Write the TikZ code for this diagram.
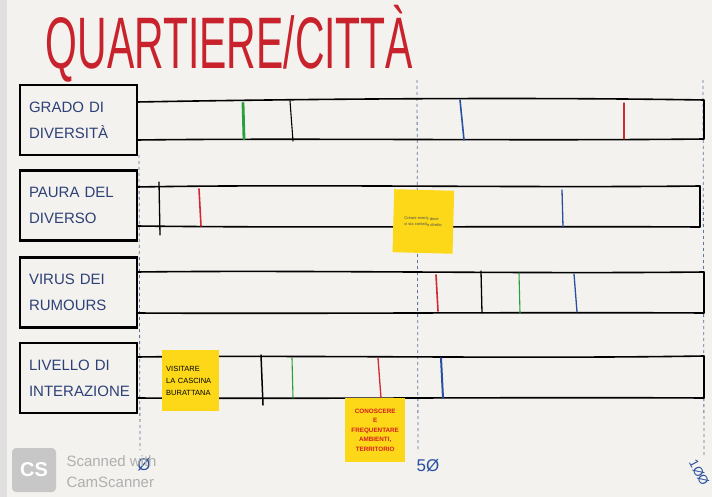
\documentclass[tikz,border=0pt]{standalone}
\usepackage{fontspec}
\setmainfont{Liberation Sans}
\definecolor{paper}{RGB}{244,242,238}
\definecolor{titlered}{RGB}{200,35,45}
\definecolor{ink}{RGB}{45,65,120}
\definecolor{mgreen}{RGB}{40,160,60}
\definecolor{mblue}{RGB}{40,80,160}
\definecolor{mred}{RGB}{210,40,50}
\definecolor{dashc}{RGB}{95,115,155}
\definecolor{noteyellow}{RGB}{252,216,25}
\definecolor{notered}{RGB}{215,30,30}
\definecolor{wmgrey}{RGB}{175,175,175}
\tikzset{
  labelbox/.style={draw=black, line width=2.2pt, minimum width=117pt, minimum height=70pt,
    inner xsep=9pt, text width=99pt, align=left, text=ink,
    font=\fontsize{15}{26}\selectfont},
  barline/.style={draw=black, line width=1.6pt, line cap=round, line join=round},
  tick/.style={line width=1.3pt, line cap=round},
  scaleline/.style={draw=dashc, line width=0.8pt, dash pattern=on 3pt off 3pt},
  sticky/.style={fill=noteyellow, inner sep=4pt, align=left, anchor=north west},
  scalenum/.style={text=mblue, font=\fontsize{17}{17}\selectfont},
  wmtext/.style={text=wmgrey, anchor=west, font=\fontsize{15}{15}\selectfont}
}
\begin{document}
\begin{tikzpicture}[x=1pt,y=-1pt]
\useasboundingbox (0,0) rectangle (712,497);
\fill[paper] (0,0) rectangle (712,497);
\fill[black!12] (0,0) rectangle (7,497);

% scale lines
\draw[scaleline] (139,155) -- (140,450);
\draw[scaleline] (417,80) -- (418,452);
\draw[scaleline] (703,80) -- (704,455);

% title
\node[anchor=west, text=titlered, xscale=0.56, font=\fontsize{73}{73}\selectfont] (title) at (44,44) {QUARTIERE/CITTÀ};

% label boxes
\node[labelbox] (b1) at (78.5,120) {GRADO DI\\DIVERSITÀ};
\node[labelbox] (b2) at (78.5,205.5) {PAURA DEL\\DIVERSO};
\node[labelbox] (b3) at (78.5,292.5) {VIRUS DEI\\RUMOURS};
\node[labelbox] (b4) at (78.5,378) {LIVELLO DI\\INTERAZIONE};

% bars
\draw[barline] (137,102) .. controls (300,99) and (520,97) .. (704,100) -- (704,139)
  .. controls (520,141) and (300,138) .. (137,140);
\draw[barline] (137,187) .. controls (300,184) and (520,188) .. (700,186) -- (700,227)
  .. controls (520,226) and (300,228) .. (137,226);
\draw[barline] (137,272) .. controls (300,270) and (520,274) .. (704,272) -- (704,313)
  .. controls (520,312) and (300,314) .. (137,313);
\draw[barline] (137,357) .. controls (300,355) and (520,359) .. (704,356) -- (704,398)
  .. controls (520,397) and (300,399) .. (137,398);

% row 1 markers
\draw[tick, mgreen, line width=2.8pt] (243,103) -- (244,139);
\draw[tick, black, line width=1.1pt] (290,101) -- (293,141);
\draw[tick, mblue, line width=1.6pt] (460,100) -- (464,140);
\draw[tick, mred, line width=1.1pt] (624,103) -- (624,139);
% row 2 markers
\draw[tick, black] (159,182) -- (160,235);
\draw[tick, mred, line width=1.6pt] (199,189) -- (201,226);
\draw[tick, mblue] (562,190) -- (563,227);
% row 3 markers
\draw[tick, mred, line width=1.6pt] (436,275) -- (438,311);
\draw[tick, black] (481,271) -- (482,313);
\draw[tick, mgreen, line width=1.1pt] (519,273) -- (520,313);
\draw[tick, mblue] (574,274) -- (577,312);
% row 4 markers
\draw[tick, black, line width=1.5pt] (261,355) -- (263,405);
\draw[tick, mgreen, line width=1.1pt] (292,358) -- (293,398);
\draw[tick, mred] (378,358) -- (381,398);
\draw[tick, mblue, line width=2pt] (441,358) -- (443,398);

% sticky notes
\node[sticky, minimum width=57pt, minimum height=61pt, text=black, text width=49pt,
  font=\fontsize{7.5}{12}\selectfont] (n1) at (162,350) {VISITARE\\LA CASCINA\\BURATTANA};
\node[sticky, minimum width=60pt, minimum height=63pt, rotate=-1.5, text=black!70,
  font=\fontsize{4}{6}\selectfont, text width=50pt] (n2) at (394,189) {\hspace*{6pt}Creare eventi dove\\\hspace*{6pt}ci sia contatto diretto};
\node[sticky, minimum width=60pt, minimum height=64pt, text=notered, align=center,
  inner xsep=2pt, font=\bfseries\fontsize{6.3}{9.5}\selectfont, text width=56pt] (n3) at (345,398) {CONOSCERE\\E\\FREQUENTARE\\AMBIENTI,\\TERRITORIO};

% scale numbers
\node[scalenum] (s0) at (144,465) {Ø};
\node[scalenum] (s50) at (428,466) {5Ø};
\node[scalenum, rotate=-62, anchor=north west, inner sep=0pt,
  font=\fontsize{13}{13}\selectfont] (s100) at (697,458) {1ØØ};

% watermark
\node[fill=black!22, rounded corners=4pt, minimum width=44pt, minimum height=44pt,
  text=white, font=\bfseries\fontsize{20}{20}\selectfont] (cs) at (34,470) {CS};
\node[wmtext] (wm1) at (63,461) {Scanned with};
\node[wmtext] (wm2) at (63,482) {CamScanner};
\end{tikzpicture}
\end{document}
